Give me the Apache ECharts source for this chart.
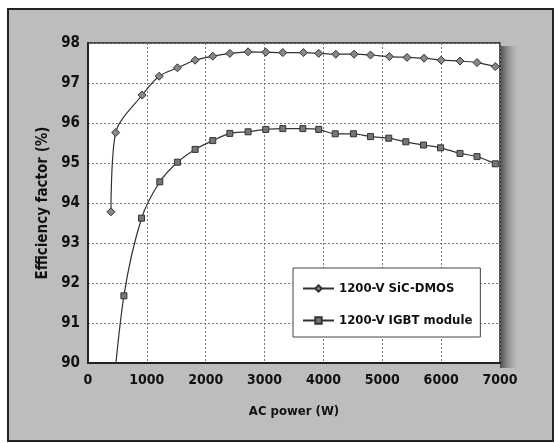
<!DOCTYPE html>
<html>
<head>
<meta charset="utf-8">
<script src="https://cdn.jsdelivr.net/npm/echarts@6/dist/echarts.min.js"></script>
<style>
html,body{margin:0;padding:0;background:#fff;}
#c{width:555px;height:443px;}
</style>
</head>
<body>
<div id="c"></div>
<script>
// Data
const sicPower = [390,470,920,1210,1520,1820,2120,2410,2720,3020,3310,3660,3920,4210,4520,4800,5120,5420,5710,6000,6320,6610,6920];
const sicEff   = [93.78,95.76,96.70,97.17,97.38,97.57,97.67,97.74,97.78,97.77,97.76,97.76,97.74,97.72,97.72,97.70,97.66,97.64,97.62,97.57,97.55,97.51,97.41];
const igbtPower = [400,610,910,1220,1520,1820,2120,2410,2720,3020,3310,3650,3920,4200,4510,4800,5110,5400,5700,5990,6320,6610,6920];
const igbtEff   = [88.8,91.68,93.62,94.53,95.02,95.34,95.56,95.74,95.78,95.84,95.86,95.86,95.84,95.73,95.73,95.66,95.62,95.53,95.45,95.38,95.24,95.16,94.98];
const seriesNames = ['1200-V SiC-DMOS','1200-V IGBT module'];
const xTitle = 'AC power (W)';
const yTitle = 'Efficiency factor (%)';

const zip = (a,b)=>a.map((v,i)=>[v,b[i]]);
const FONT = '"DejaVu Sans Condensed","Liberation Sans Narrow",sans-serif';
const chart = echarts.init(document.getElementById('c'), null, {renderer:'canvas'});
chart.setOption({
  animation:false,
  backgroundColor:'#ffffff',
  graphic:[
    {
      type:'rect', z:-10, silent:true,
      shape:{x:8,y:9,width:545,height:432},
      style:{fill:'#bdbdbd',stroke:'#222',lineWidth:2}
    },
    {
      type:'rect', z:-9, silent:true,
      shape:{x:500,y:46,width:18,height:322},
      style:{fill:new echarts.graphic.LinearGradient(0,0,1,0,[
        {offset:0,color:'rgba(40,40,40,0.75)'},
        {offset:0.5,color:'rgba(80,80,80,0.35)'},
        {offset:1,color:'rgba(120,120,120,0)'}
      ])}
    }
  ],
  grid:{
    left:88,right:55,top:43,bottom:80,
    show:true, backgroundColor:'#ffffff', borderColor:'#222', borderWidth:1.5
  },
  legend:{
    orient:'vertical', left:293, top:268,
    backgroundColor:'#ffffff', borderColor:'#444', borderWidth:1,
    padding:[14,8,10,9], itemGap:19, itemWidth:31, itemHeight:8,
    textStyle:{fontFamily:FONT,fontWeight:'bold',fontSize:13,color:'#111'},
    data:seriesNames
  },
  xAxis:{
    type:'value', min:0, max:7000, interval:1000,
    name:xTitle, nameLocation:'middle', nameGap:42,
    nameTextStyle:{fontFamily:FONT,fontWeight:'bold',fontSize:13,color:'#111'},
    axisLine:{show:true,lineStyle:{color:'#222',width:2}},
    axisTick:{show:false},
    axisLabel:{fontFamily:FONT,fontWeight:'bold',fontSize:14,color:'#111',margin:10,formatter:v=>String(v)},
    splitLine:{show:true,lineStyle:{color:'#777',type:[2,2],width:1}}
  },
  yAxis:{
    type:'value', min:90, max:98, interval:1,
    name:yTitle, nameLocation:'middle', nameGap:36,
    nameTextStyle:{fontFamily:FONT,fontWeight:'bold',fontSize:15,color:'#111'},
    axisLine:{show:true,lineStyle:{color:'#222',width:2}},
    axisTick:{show:false},
    axisLabel:{fontFamily:FONT,fontWeight:'bold',fontSize:15,color:'#111',margin:8},
    splitLine:{show:true,lineStyle:{color:'#777',type:[2,2],width:1}}
  },
  series:[
    {
      name:seriesNames[0], type:'line', data:zip(sicPower,sicEff), smooth:0.3, clip:true,
      symbol:'diamond', symbolSize:8,
      lineStyle:{color:'#333',width:1.2},
      itemStyle:{color:'#888',borderColor:'#333',borderWidth:1}
    },
    {
      name:seriesNames[1], type:'line', data:zip(igbtPower,igbtEff), smooth:0.3, clip:true,
      symbol:'rect', symbolSize:6,
      lineStyle:{color:'#333',width:1.2},
      itemStyle:{color:'#777',borderColor:'#333',borderWidth:1}
    }
  ]
});
</script>
</body>
</html>
